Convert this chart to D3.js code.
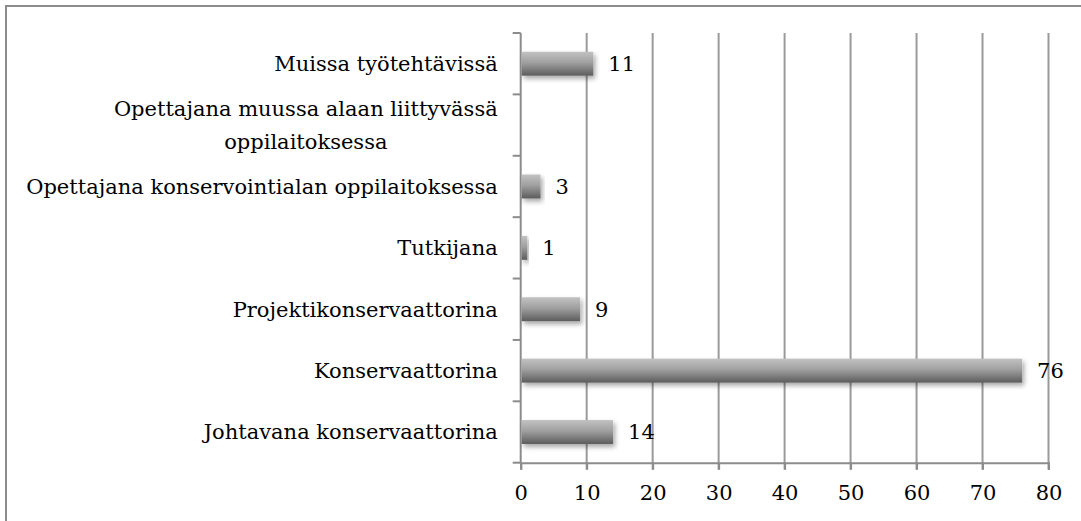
<!DOCTYPE html>
<html>
<head>
<meta charset="utf-8">
<script src="https://cdn.jsdelivr.net/npm/d3@7"></script>
<style>
  html, body { margin: 0; padding: 0; background: #fff; }
  svg text { font-family: "DejaVu Serif", "Liberation Serif", serif; font-size: 21px; fill: #000; }
</style>
</head>
<body>
<svg width="1081" height="521"></svg>
<script>
// categories listed bottom to top, as in the chart
const categories = [
  'Johtavana konservaattorina',
  'Konservaattorina',
  'Projektikonservaattorina',
  'Tutkijana',
  'Opettajana konservointialan oppilaitoksessa',
  'Opettajana muussa alaan liittyvässä oppilaitoksessa',
  'Muissa työtehtävissä'
];
const values = [14, 76, 9, 1, 3, null, 11];
const xTicks = [0, 10, 20, 30, 40, 50, 60, 70, 80];
// wrapped label lines for long category
const wrapped = {
  'Opettajana muussa alaan liittyvässä oppilaitoksessa': ['Opettajana muussa alaan liittyvässä', 'oppilaitoksessa']
};

const data = categories.map((c, i) => ({cat: c, value: values[i]}));

const plotLeft = 520.7, plotRight = 1048.5, plotTop = 33, plotBottom = 462.7;
const labelRight = plotLeft - 23;

const svg = d3.select('svg');

// outer frame
svg.append('rect')
  .attr('x', 6).attr('y', 6)
  .attr('width', 1200).attr('height', 600)
  .attr('fill', 'none')
  .attr('stroke', '#8c8c8c')
  .attr('stroke-width', 2);

const defs = svg.append('defs');
const grad = defs.append('linearGradient')
  .attr('id', 'barGrad')
  .attr('x1', 0).attr('y1', 0).attr('x2', 0).attr('y2', 1);
grad.append('stop').attr('offset', '0%').attr('stop-color', '#c2c2c2');
grad.append('stop').attr('offset', '45%').attr('stop-color', '#a0a0a0');
grad.append('stop').attr('offset', '100%').attr('stop-color', '#5c5c5c');

const shadow = defs.append('filter').attr('id', 'shadow')
  .attr('x', '-10%').attr('y', '-30%').attr('width', '130%').attr('height', '190%');
shadow.append('feDropShadow')
  .attr('dx', 2).attr('dy', 3)
  .attr('stdDeviation', 2.5)
  .attr('flood-color', '#000')
  .attr('flood-opacity', 0.35);

const x = d3.scaleLinear()
  .domain([0, 80])
  .range([plotLeft, plotRight]);

const y = d3.scaleBand()
  .domain(categories)
  .range([plotBottom, plotTop])
  .padding(0);

const barH = y.bandwidth() * 0.39;

// vertical grid lines
svg.append('g')
  .selectAll('line')
  .data(xTicks.slice(1))
  .enter().append('line')
  .attr('x1', d => x(d)).attr('x2', d => x(d))
  .attr('y1', plotTop).attr('y2', plotBottom + 7)
  .attr('stroke', '#9a9a9a')
  .attr('stroke-width', 2);

// x axis
const xAxis = svg.append('g')
  .attr('class', 'axis axis--x')
  .attr('transform', `translate(0, ${plotBottom})`)
  .call(d3.axisBottom(x).tickValues(xTicks).tickSize(7).tickPadding(15));
xAxis.attr('font-family', null).attr('font-size', null);
xAxis.select('.domain').attr('stroke', '#8c8c8c').attr('stroke-width', 2);
xAxis.selectAll('.tick line').attr('stroke', '#8c8c8c').attr('stroke-width', 2);
xAxis.selectAll('.tick text').attr('fill', '#000');

// y axis: ticks at category boundaries
const boundaries = categories.map(c => y(c)).concat([plotBottom]);
const yAxis = svg.append('g').attr('class', 'axis axis--y');
yAxis.append('line')
  .attr('x1', plotLeft).attr('x2', plotLeft)
  .attr('y1', plotTop).attr('y2', plotBottom)
  .attr('stroke', '#8c8c8c').attr('stroke-width', 2);
yAxis.selectAll('.bt')
  .data(boundaries)
  .enter().append('line')
  .attr('class', 'bt')
  .attr('x1', plotLeft - 8).attr('x2', plotLeft)
  .attr('y1', d => d).attr('y2', d => d)
  .attr('stroke', '#8c8c8c').attr('stroke-width', 2);

// category labels
const labels = svg.append('g').selectAll('text')
  .data(categories)
  .enter().append('text')
  .attr('text-anchor', 'end')
  .attr('x', labelRight)
  .attr('y', d => y(d) + y.bandwidth() / 2)
  .attr('dy', '0.35em')
  .text(d => wrapped[d] ? null : d);

// two-line label: both lines centred on the first line's centre
labels.filter(d => wrapped[d]).each(function(d) {
  const t = d3.select(this).attr('dy', null).attr('text-anchor', 'middle');
  const cy = y(d) + y.bandwidth() / 2;
  const first = t.append('tspan').attr('y', cy - 16).attr('dy', '0.35em').text(wrapped[d][0]);
  const w = first.node().getComputedTextLength();
  const cx = labelRight - w / 2;
  first.attr('x', cx);
  t.append('tspan').attr('x', cx).attr('y', cy + 17).attr('dy', '0.35em').text(wrapped[d][1]);
});

// bars
const withValue = data.filter(d => d.value != null);
svg.append('g')
  .selectAll('rect')
  .data(withValue)
  .enter().append('rect')
  .attr('x', x(0) + 1)
  .attr('y', d => y(d.cat) + (y.bandwidth() - barH) / 2)
  .attr('width', d => x(d.value) - x(0) - 1)
  .attr('height', barH)
  .attr('fill', 'url(#barGrad)')
  .attr('filter', 'url(#shadow)');

// value labels
svg.append('g')
  .selectAll('text')
  .data(withValue)
  .enter().append('text')
  .attr('x', d => x(d.value) + 15)
  .attr('y', d => y(d.cat) + y.bandwidth() / 2)
  .attr('dy', '0.35em')
  .text(d => d.value);
</script>
</body>
</html>
